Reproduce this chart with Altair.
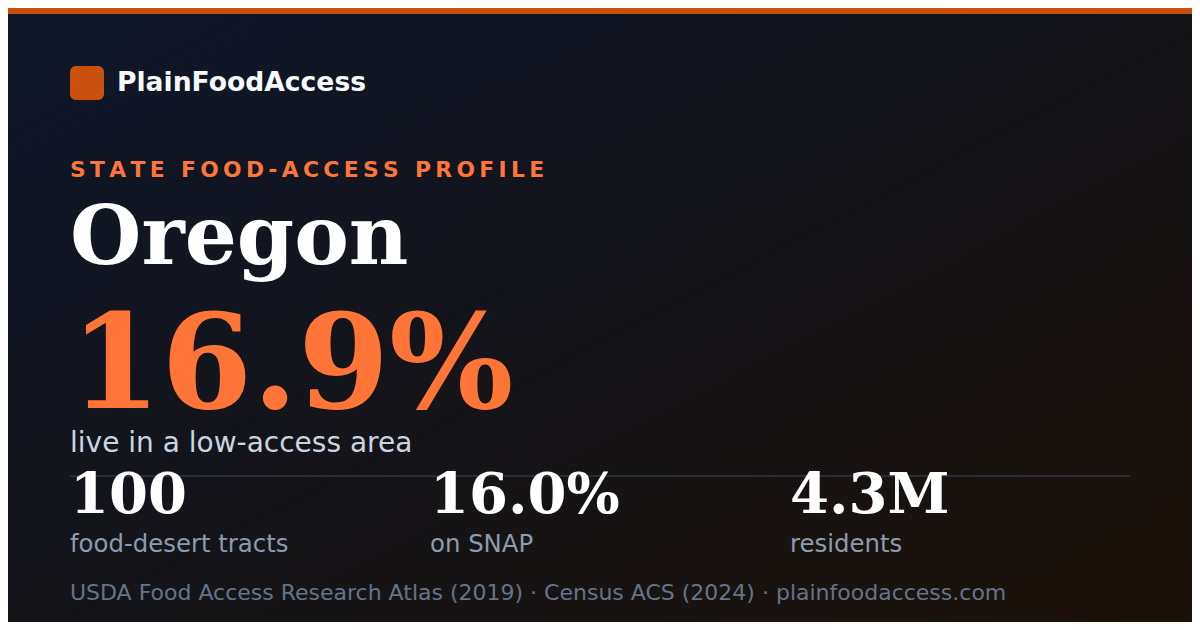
import altair as alt
import pandas as pd

# ---- data ----
BRAND = ["PlainFoodAccess"]
KICKER = ["STATE FOOD-ACCESS PROFILE"]
STATE = ["Oregon"]
HEADLINE = ["16.9%"]
HEADLINE_LABEL = ["live in a low-access area"]
STAT_VALUES = ["100", "16.0%", "4.3M"]
STAT_LABELS = ["food-desert tracts", "on SNAP", "residents"]
SOURCE = ["USDA Food Access Research Atlas (2019) \u00b7 Census ACS (2024) \u00b7 plainfoodaccess.com"]

# ---- layout ----
OFF = 8  # page margin: chart origin sits at page (8, 8)
W, H = 1200 - 2 * OFF, 630 - 2 * OFF
SANS = "DejaVu Sans"
SERIF = "DejaVu Serif"
ORANGE = "#ff7538"
BAR = "#c9500d"


def P(v):
    return alt.value(v - OFF)


one = pd.DataFrame({"k": [0]})

bg = alt.Chart(one).mark_rect(
    fill=alt.LinearGradient(
        gradient="linear",
        stops=[
            alt.GradientStop(color="#0f172a", offset=0),
            alt.GradientStop(color="#141419", offset=0.5),
            alt.GradientStop(color="#1c1108", offset=1),
        ],
        x1=0, y1=0, x2=1, y2=1,
    )
).encode(x=alt.value(0), x2=alt.value(W), y=alt.value(0), y2=alt.value(H))

topbar = alt.Chart(one).mark_rect(color=BAR).encode(
    x=alt.value(0), x2=alt.value(W), y=alt.value(0), y2=alt.value(6)
)

logo = alt.Chart(one).mark_rect(color=BAR, cornerRadius=6).encode(
    x=P(70), x2=P(104), y=P(66), y2=P(100)
)


def text_layer(values, x, y, font, size, color, weight="normal"):
    return alt.Chart(pd.DataFrame({"t": values})).mark_text(
        align="left", baseline="alphabetic", font=font, fontSize=size,
        fontWeight=weight, color=color,
    ).encode(x=P(x), y=P(y), text="t:N")


brand = text_layer(BRAND, 117, 91, SANS, 26.6, "#f8fafc", "bold")
kicker = text_layer(["\u2009".join(s) for s in KICKER], 70, 177, SANS, 21.8, ORANGE, "bold")
state = text_layer(STATE, 70, 264, SERIF, 82, "#ffffff", "bold")
headline = text_layer(HEADLINE, 70, 408, SERIF, 131, ORANGE, "bold")
headline_label = text_layer(HEADLINE_LABEL, 70, 452, SANS, 28, "#cbd5e1")

divider = alt.Chart(one).mark_rule(color="#272c36", strokeWidth=2).encode(
    x=P(70), x2=P(1130), y=P(476)
)

stats = pd.DataFrame({"i": [0, 1, 2], "value": STAT_VALUES, "label": STAT_LABELS})
xs = alt.X("i:Q", scale=alt.Scale(domain=[0, 3], range=[70 - OFF, 1150 - OFF]), axis=None)

stat_values = alt.Chart(stats).mark_text(
    align="left", baseline="alphabetic", font=SERIF, fontSize=56,
    fontWeight="bold", color="#ffffff",
).encode(x=xs, y=P(513), text="value:N")

stat_labels = alt.Chart(stats).mark_text(
    align="left", baseline="alphabetic", font=SANS, fontSize=24.4, color="#8d9bb0",
).encode(x=xs, y=P(552), text="label:N")

source = text_layer(SOURCE, 70, 600, SANS, 22, "#64748b")

chart = alt.layer(
    bg, topbar, logo, brand, kicker, state, headline, headline_label,
    divider, stat_values, stat_labels, source,
).properties(
    width=W, height=H, padding=0, autosize=alt.AutoSizeParams(type="none"),
    background="#141419",
).configure_view(stroke=None)

chart.save("out.html", embed_options={"renderer": "svg", "actions": False})
